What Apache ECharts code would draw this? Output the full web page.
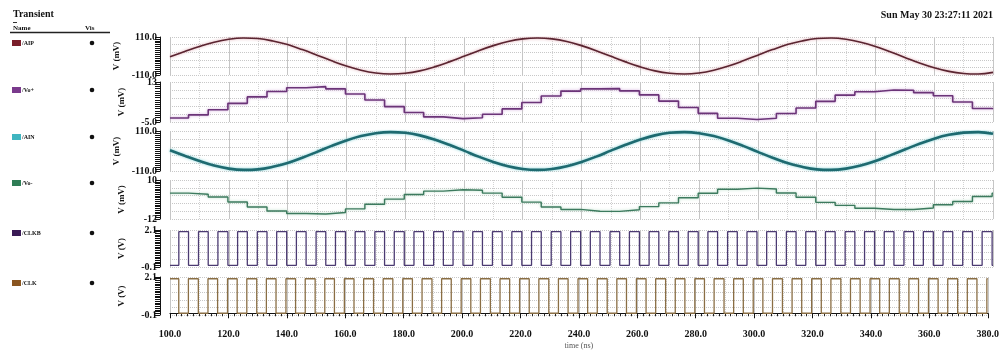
<!DOCTYPE html>
<html><head><meta charset="utf-8">
<script src="https://cdn.jsdelivr.net/npm/echarts@6/dist/echarts.min.js"></script>
<style>html,body{margin:0;padding:0;background:#fff}#c{width:1002px;height:351px}</style>
</head><body><div id="c"></div>
<script>
// ---------------- data ----------------
const sineTimes = [100,105,110,115,120,125,130,135,140,145,150,155,160,165,170,175,180,185,190,195,200,205,210,215,220,225,230,235,240,245,250,255,260,265,270,275,280,285,290,295,300,305,310,315,320,325,330,335,340,345,350,355,360,365,370,375,380];
const aip = [-4,26,55,80,97,104,101,87,66,37,5,-28,-58,-82,-98,-104,-100,-86,-63,-34,-2,31,60,84,99,104,99,84,60,31,-2,-34,-63,-86,-100,-104,-98,-82,-58,-28,5,37,66,87,101,104,97,80,55,24,-8,-40,-68,-89,-101,-104,-95];
const ain = [4,-26,-55,-80,-97,-104,-101,-87,-66,-37,-5,28,58,82,98,104,100,86,63,34,2,-31,-60,-84,-99,-104,-99,-84,-60,-31,2,34,63,86,100,104,98,82,58,28,-5,-37,-66,-87,-101,-104,-97,-80,-55,-24,8,40,68,89,101,104,95];
const stepStarts = [100,106.3,113.0,119.7,126.3,133.0,139.7,146.3,153.0,159.7,166.3,173.0,179.7,186.3,193.0,199.7,206.3,213.0,219.7,226.3,233.0,239.7,246.3,253.0,259.7,266.3,273.0,279.7,286.3,293.0,299.7,306.3,313.0,319.7,326.3,333.0,339.7,346.3,353.0,359.7,366.3,373.0,379.7];
const voPlus = [-3.2,-1.8,0.5,3.4,6.3,8.7,10.4,10.9,9.9,7.6,4.9,1.9,-0.7,-2.7,-3.5,-3.1,-1.5,0.9,3.8,6.7,8.9,9.9,10.0,9.0,7.2,4.4,1.5,-1.1,-3.3,-3.9,-3.3,-1.2,1.3,4.3,7.1,8.6,9.4,9.3,8.2,6.8,4.0,1.1,0.9];
const voMinus = [2.6,2.0,0.4,-2.4,-5.2,-7.5,-8.9,-9.2,-8.3,-6.3,-3.7,-0.8,1.8,3.7,4.5,4.2,2.6,0.3,-2.5,-5.2,-6.6,-7.6,-7.7,-6.8,-5.0,-2.9,0.0,2.5,4.8,5.4,4.9,2.7,0.3,-2.6,-4.3,-5.9,-6.6,-6.6,-5.8,-4.0,-2.1,0.7,2.5];
const clkbRise = [103.0,109.7,116.3,123.0,129.7,136.3,143.0,149.7,156.3,163.0,169.7,176.3,183.0,189.7,196.3,203.0,209.7,216.3,223.0,229.7,236.3,243.0,249.7,256.3,263.0,269.7,276.3,283.0,289.7,296.3,303.0,309.7,316.3,323.0,329.7,336.3,343.0,349.7,356.3,363.0,369.7,376.3];
const clkbFall = [106.3,113.0,119.7,126.3,133.0,139.7,146.3,153.0,159.7,166.3,173.0,179.7,186.3,193.0,199.7,206.3,213.0,219.7,226.3,233.0,239.7,246.3,253.0,259.7,266.3,273.0,279.7,286.3,293.0,299.7,306.3,313.0,319.7,326.3,333.0,339.7,346.3,353.0,359.7,366.3,373.0,379.7];
const clkHigh = 2.0, clkLow = 0.0;
const timeMin = 100, timeMax = 380, timeStep = 20;
const seriesNames = ['/AIP','/Vo+','/AIN','/Vo-','/CLKB','/CLK'];
const yMin = [-110,-5,-110,-12,-0.1,-0.1];
const yMax = [110,13,110,10,2.1,2.1];
const yStep = [11,1,11,1,0.1,0.1];
const yMinLabel = ['-110.0','-5.0','-110.0','-12','-0.1','-0.1'];
const yMaxLabel = ['110.0','13','110.0','10','2.1','2.1'];
const yUnits = ['V (mV)','V (mV)','V (mV)','V (mV)','V (V)','V (V)'];
const titleText = 'Transient';
const dateText = 'Sun May 30 23:27:11 2021';
const xName = 'time (ns)';

// ---------------- styles / layout ----------------
const lineColors = ['#5a2430','#6b3478','#1e6a70','#3c7a5e','#4b3a72','#8a6e44'];
const haloColors = ['rgba(215,150,160,0.9)','rgba(205,160,215,0.9)','rgba(120,205,210,0.9)','rgba(160,210,180,0.8)','rgba(0,0,0,0)','rgba(0,0,0,0)'];
const lineWidths = [1.6,1.6,2.6,1.4,1.3,1.3];
const legendColors = ['#7a1e2a','#7a3a8c','#3fb5c0','#2e7d55','#3a1a55','#8a5520'];
const gridTops = [37,82,131,180,230,277];
const gridHeights = [38,40,40,39,37,38];
const legendYs = [43,90,137,183,233,283];
const SERIF = '"Liberation Serif","DejaVu Serif",serif';

function clockData(rises, falls, startLevel) {
  const ev = rises.map(t => [t, clkHigh]).concat(falls.map(t => [t, clkLow])).sort((a, b) => a[0] - b[0]);
  return [[timeMin, startLevel]].concat(ev).concat([[timeMax, ev[ev.length - 1][1]]]);
}
function stepData(vals) {
  const d = stepStarts.map((t, i) => [t, vals[i]]);
  d.push([timeMax, vals[vals.length - 1]]);
  return d;
}
const dataSets = [
  sineTimes.map((t, i) => [t, aip[i]]),
  stepData(voPlus),
  sineTimes.map((t, i) => [t, ain[i]]),
  stepData(voMinus),
  clockData(clkbRise, clkbFall, clkLow),
  clockData(clkbFall, clkbRise, clkHigh)
];

const grids = [], xAxes = [], yAxes = [], series = [];
for (let i = 0; i < 6; i++) {
  grids.push({left: 170, right: 9, top: gridTops[i], height: gridHeights[i], show: false});
  const last = i === 5;
  xAxes.push({
    gridIndex: i, type: 'value', min: timeMin, max: timeMax, interval: timeStep,
    offset: last ? 7 : 0,
    axisLine: {show: last, lineStyle: {color: '#111', width: 1.2}},
    axisTick: {show: last, length: 5, lineStyle: {color: '#111'}},
    minorTick: {show: last, splitNumber: last ? 10 : 2, length: 3, lineStyle: {color: '#222'}},
    minorSplitLine: {show: !last, lineStyle: {color: '#d4d4d4', type: 'dotted'}},
    axisLabel: {show: last, formatter: v => v.toFixed(1), fontFamily: SERIF, fontWeight: 'bold', fontSize: 10, color: '#111', margin: 7},
    splitLine: {show: true, lineStyle: {color: '#c6c6c6', width: 1}},
    name: last ? xName : '', nameLocation: 'middle', nameGap: 20,
    nameTextStyle: {fontFamily: SERIF, fontSize: 8, color: '#555'}
  });
  const mn = yMin[i], mx = yMax[i];
  yAxes.push({
    gridIndex: i, type: 'value', min: mn, max: mx, interval: yStep[i], position: 'left', offset: 10,
    axisLine: {show: true, lineStyle: {color: '#111', width: 1}},
    axisTick: {show: true, length: 5, lineStyle: {color: '#111', width: 1}},
    axisLabel: {
      formatter: v => Math.abs(v - mx) < 1e-6 ? yMaxLabel[i] : (Math.abs(v - mn) < 1e-6 ? yMinLabel[i] : ''),
      fontFamily: SERIF, fontWeight: 'bold', fontSize: 10, color: '#111', margin: 3
    },
    splitLine: {show: false},
    name: yUnits[i], nameLocation: 'middle', nameGap: 34, nameRotate: 90,
    nameTextStyle: {fontFamily: SERIF, fontWeight: 'bold', fontSize: 9, color: '#111'}
  });
  series.push({
    name: seriesNames[i], type: 'line', xAxisIndex: i, yAxisIndex: i,
    data: dataSets[i], showSymbol: false, symbol: 'none',
    smooth: (i === 0 || i === 2) ? 0.4 : false,
    step: (i === 0 || i === 2) ? false : 'end',
    lineStyle: {color: lineColors[i], width: lineWidths[i], shadowColor: haloColors[i], shadowBlur: 3},
    z: 3
  });
}
// helper axes that only draw the dotted horizontal grid in each panel
for (let i = 0; i < 6; i++) {
  yAxes.push({
    gridIndex: i, type: 'value', min: 0, max: 5, interval: 1, position: 'right',
    axisLine: {show: false}, axisTick: {show: false}, axisLabel: {show: false},
    splitLine: {show: true, lineStyle: {color: '#c8c8c8', type: 'dotted'}}
  });
}
// helper x axis for the 10 ns dotted verticals in the bottom panel
xAxes.push({
  gridIndex: 5, type: 'value', min: timeMin, max: timeMax, interval: timeStep, position: 'top',
  axisLine: {show: false}, axisTick: {show: false}, axisLabel: {show: false},
  splitLine: {show: false}, minorTick: {show: false, splitNumber: 2},
  minorSplitLine: {show: true, lineStyle: {color: '#d4d4d4', type: 'dotted'}}
});

const graphics = [
  {type: 'text', x: 13, y: 14, style: {text: titleText, font: 'bold 10px ' + SERIF, fill: '#111', verticalAlign: 'middle'}},
  {type: 'rect', shape: {x: 13, y: 22, width: 4, height: 1}, style: {fill: '#333'}},
  {type: 'text', x: 13, y: 28, style: {text: 'Name', font: 'bold 7px ' + SERIF, fill: '#111', verticalAlign: 'middle'}},
  {type: 'text', x: 85, y: 28, style: {text: 'Vis', font: 'bold 7px ' + SERIF, fill: '#111', verticalAlign: 'middle'}},
  {type: 'line', shape: {x1: 10, y1: 32.5, x2: 110, y2: 32.5}, style: {stroke: '#222', lineWidth: 1.3}},
  {type: 'text', x: 993, y: 15, style: {text: dateText, font: 'bold 10px ' + SERIF, fill: '#111', align: 'right', verticalAlign: 'middle'}}
];
for (let i = 0; i < 6; i++) {
  const y = legendYs[i];
  graphics.push({type: 'rect', shape: {x: 12, y: y - 3, width: 9, height: 6}, style: {fill: legendColors[i]}});
  graphics.push({type: 'text', x: 22, y: y, style: {text: seriesNames[i], font: 'bold 6px ' + SERIF, fill: '#111', verticalAlign: 'middle'}});
  graphics.push({type: 'circle', shape: {cx: 92, cy: y, r: 2.3}, style: {fill: '#111'}});
}

const chart = echarts.init(document.getElementById('c'), null, {renderer: 'canvas'});
chart.setOption({
  backgroundColor: '#ffffff',
  animation: false,
  grid: grids, xAxis: xAxes, yAxis: yAxes, series: series, graphic: graphics
});
</script></body></html>
